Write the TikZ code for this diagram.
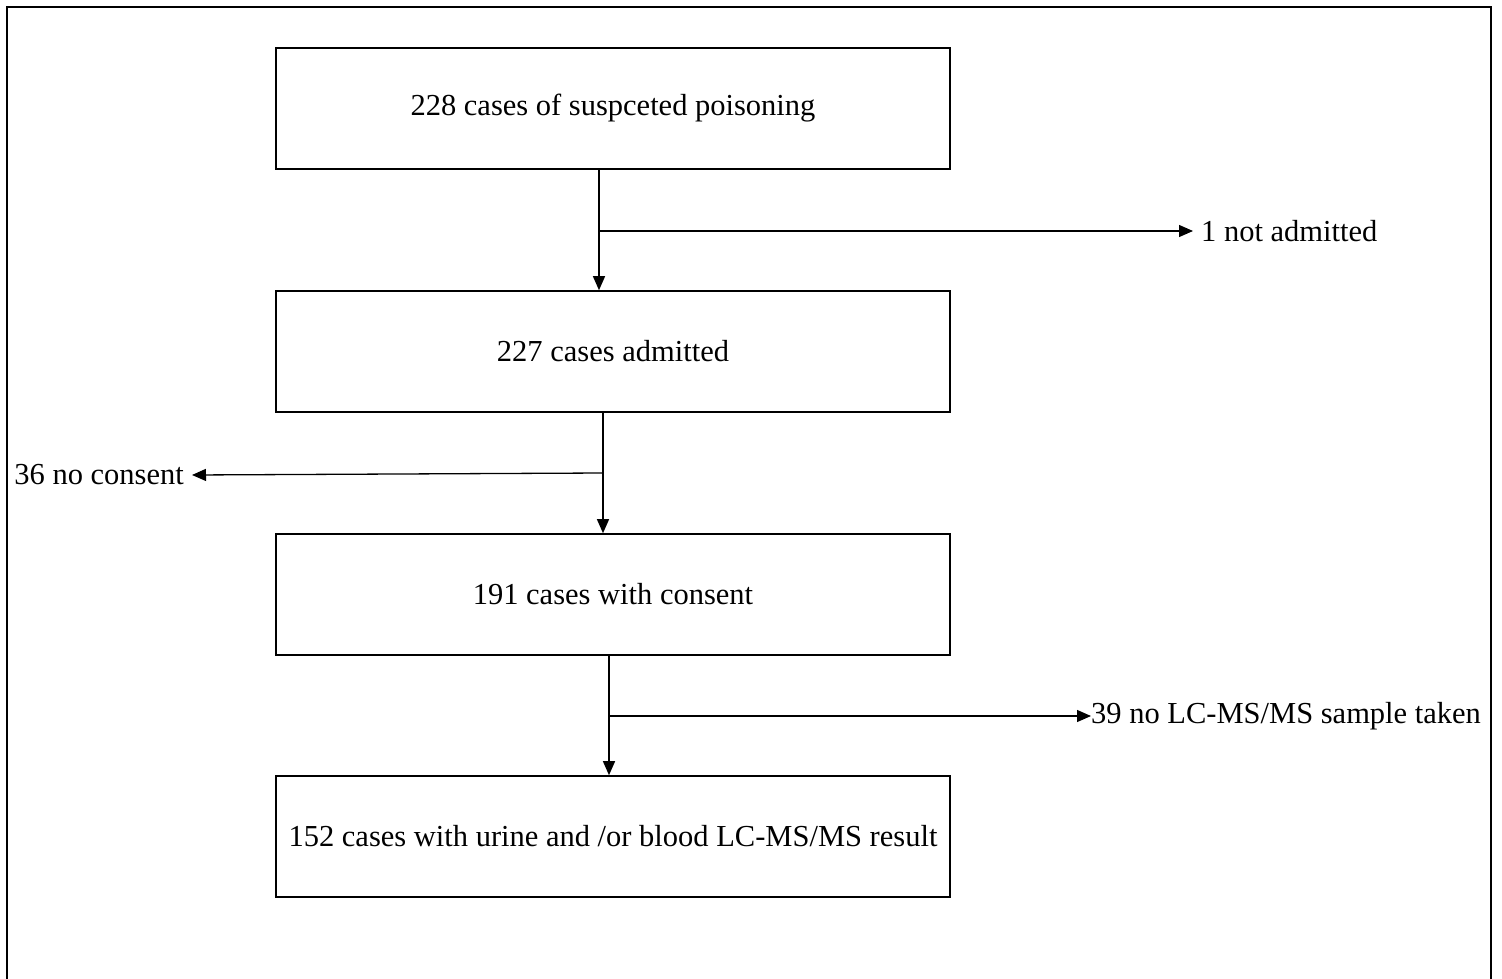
\documentclass[tikz,border=0pt]{standalone}
\usepackage{fontspec}
\setmainfont{Liberation Serif}
\usetikzlibrary{arrows.meta}
\begin{document}
\begin{tikzpicture}[x=1pt,y=-1pt,
  flowbox/.style={draw,line width=1.6pt,minimum width=674pt,minimum height=121pt,inner sep=0pt,font=\fontsize{30.5}{33}\selectfont},
  sidelabel/.style={inner sep=0pt,font=\fontsize{30.5}{33}\selectfont},
  conn/.style={line width=1.3pt,-{Triangle[length=14pt,width=12pt]}}]
\useasboundingbox (0,0) rectangle (1502,979);
\begin{scope}
\clip (0,0) rectangle (1502,979);
\draw[line width=2pt] (7,990) -- (7,7) -- (1491,7) -- (1491,990);
\end{scope}
\node[flowbox] (b1) at (613,108.5) {228 cases of suspceted poisoning};
\node[flowbox] (b2) at (613,351.5) {227 cases admitted};
\node[flowbox] (b3) at (613,594.5) {191 cases with consent};
\node[flowbox] (b4) at (613,836.5) {152 cases with urine and /or blood LC-MS/MS result};
\node[sidelabel,anchor=west] (l1) at (1201,231) {1 not admitted};
\node[sidelabel,anchor=east] (l2) at (184,475) {36 no consent};
\node[sidelabel,anchor=west] (l3) at (1091,716) {39 no LC-MS/MS sample taken};
\coordinate (j1) at (599,231);
\coordinate (j2) at (603,473);
\coordinate (j3) at (609,716);
\draw[conn] (b1.south -| j1) -- (b2.north -| j1);
\draw[conn] (j1) -- ([xshift=-8pt]l1.west);
\draw[conn] (b2.south -| j2) -- (b3.north -| j2);
\draw[conn] (j2) -- ([xshift=8pt]l2.east);
\draw[conn] (b3.south -| j3) -- (b4.north -| j3);
\draw[conn] (j3) -- (l3.west);
\end{tikzpicture}
\end{document}
